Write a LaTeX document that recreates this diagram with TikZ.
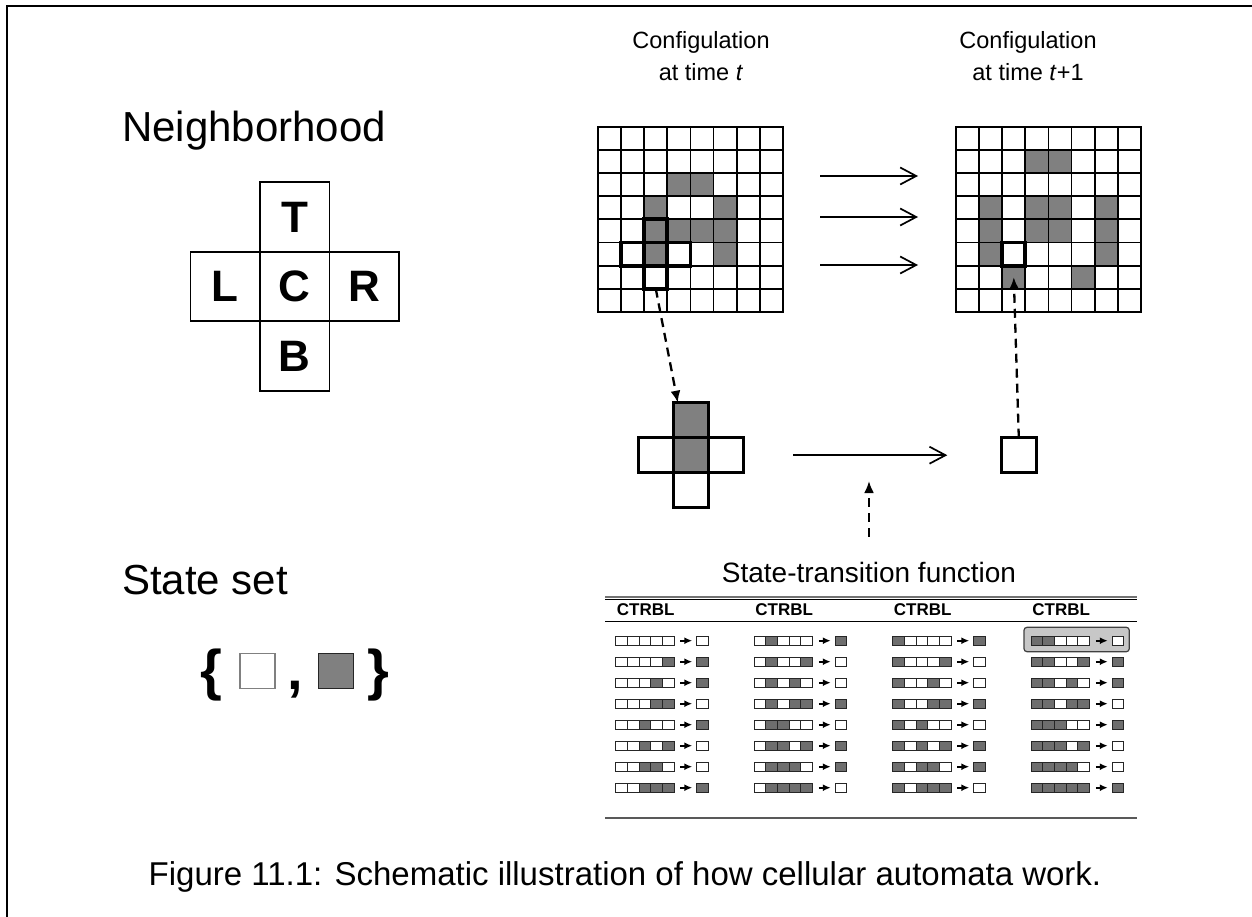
\documentclass[tikz,border=0pt]{standalone}
\usepackage{fontspec}
\setmainfont{Liberation Sans}
\usetikzlibrary{arrows.meta,positioning}
\definecolor{cellgray}{HTML}{808080}
\definecolor{tabgray}{HTML}{6E6E6E}

\begin{document}
\begin{tikzpicture}[
    x=1pt, y=-1pt,
    cell/.style={draw, line width=1.8pt, minimum size=23.1pt, inner sep=0pt, outer sep=0pt},
    marked/.style={draw, line width=3.8pt},
    nbcell/.style={draw, line width=1.8pt, minimum size=69.5pt, inner sep=0pt, outer sep=0pt, font=\fontsize{44}{44}\selectfont\bfseries},
    xcell/.style={draw, line width=2.5pt, minimum size=35pt, inner sep=0pt, outer sep=0pt},
    tcell/.style={draw=black!85, line width=0.9pt, minimum width=11.67pt, minimum height=9.3pt, inner sep=0pt, outer sep=0pt},
    arrow/.style={-{Straight Barb[length=16pt,width=17pt]}, line width=1.7pt},
    dasharrow/.style={-{Latex[length=12pt,width=10pt]}, line width=2.3pt, dash pattern=on 9pt off 6pt},
    tarrow/.style={-{Latex[length=8pt,width=7pt]}, line width=1.6pt},
    cfglabel/.style={align=center, font=\fontsize{23.5}{32}\selectfont},
    bigtext/.style={anchor=base west, inner sep=0pt, font=\fontsize{42}{42}\selectfont}
]
\useasboundingbox (0,0) rectangle (1252,917);
\draw[line width=1.5pt] (7,917) -- (7,6) -- (1252,6);

% neighborhood
\node[bigtext] (nbtitle) at (122,142) {Neighborhood};
\node[nbcell] (nC) at (294.7,286.4) {C};
\node[nbcell, above=0pt of nC] (nT) {T};
\node[nbcell, left=0pt of nC] (nL) {L};
\node[nbcell, right=0pt of nC] (nR) {R};
\node[nbcell, below=0pt of nC] (nB) {B};

% state set
\node[bigtext] (sstitle) at (122,594) {State set};
\node[anchor=base, inner sep=0pt, font=\fontsize{56}{56}\selectfont\bfseries] (lb) at (211.7,689) {\{};
\node[draw=black!50, line width=1.2pt, minimum size=35pt, inner sep=0pt] (ws) at (257.5,670.8) {};
\node[anchor=base, inner sep=0pt, font=\fontsize{56}{56}\selectfont\bfseries] (cm) at (295,689) {,};
\node[draw=black!85, fill=cellgray, line width=1.2pt, minimum size=35pt, inner sep=0pt] (gs) at (335.8,670.8) {};
\node[anchor=base, inner sep=0pt, font=\fontsize{56}{56}\selectfont\bfseries] (rb) at (378,689) {\}};

% configurations
\node[cfglabel] (cfg1) at (701,56) {Configulation\\at time \textit{t}};
\node[cfglabel] (cfg2) at (1028,56) {Configulation\\at time \textit{t}+1};
\foreach \r in {0,...,7}
  \foreach \c in {0,...,7}{
    \node[cell] (L-\r-\c) at ({598+23.1*(\c+0.5)},{127+23.1*(\r+0.5)}) {};
    \node[cell] (R-\r-\c) at ({956+23.1*(\c+0.5)},{127+23.1*(\r+0.5)}) {};
  }
\foreach \r/\c in {2/3,2/4,3/2,3/5,4/2,4/3,4/4,4/5,5/2,5/5}
  \node[cell, fill=cellgray] at (L-\r-\c) {};
\foreach \r/\c in {1/3,1/4,3/1,3/3,3/4,3/6,4/1,4/3,4/4,4/6,5/1,5/6,6/2,6/5}
  \node[cell, fill=cellgray] at (R-\r-\c) {};
\foreach \p in {4-2,5-1,5-2,5-3,6-2}
  \draw[marked] (L-\p.north west) rectangle (L-\p.south east);
\draw[marked] (R-5-2.north west) rectangle (R-5-2.south east);
\foreach \y [count=\i] in {176,217,265}{
  \coordinate (s\i) at (820,\y);
  \coordinate (e\i) at (918,\y);
  \draw[arrow] (s\i) -- (e\i);
}

% local rule
\node[xcell, fill=cellgray] (xC) at (690.8,455.2) {};
\node[xcell, fill=cellgray, above=0pt of xC] (xT) {};
\node[xcell, left=0pt of xC] (xL) {};
\node[xcell, right=0pt of xC] (xR) {};
\node[xcell, below=0pt of xC] (xB) {};
\node[xcell] (xout) at (1018.8,455.2) {};
\draw[arrow, shorten <=50pt, shorten >=54pt] (xR) -- (xout);
\draw[dasharrow] (L-6-2.south) -- ([xshift=-13pt]xT.north);
\draw[dasharrow] (xout.north) -- (R-6-2.center);

% transition table
\node[anchor=base, inner sep=0pt, font=\fontsize{28}{28}\selectfont] (stf) at (869,582) {State-transition function};
\coordinate (fa) at (869,481);
\draw[dasharrow, shorten <=25pt] (stf) -- (fa);
\draw[line width=2pt, black!55] (605,597) -- (1137,597);
\draw[line width=0.9pt] (605,599.5) -- (1137,599.5);
\draw[line width=1.3pt] (605,621.7) -- (1137,621.7);
\draw[line width=2pt, black!65] (605,818) -- (1137,818);
\draw[draw=black!75, fill=black!22, line width=1.2pt, rounded corners=3pt] (1024,627.3) rectangle (1129.3,651.7);
\foreach \c in {0,...,3}{
  \pgfmathsetmacro\xo{615.7+138.5*\c}
  \node[anchor=base west, inner sep=0pt, font=\fontsize{17}{17}\selectfont\bfseries] (h\c) at (\xo+1,615) {CTRBL};
  \foreach \r in {0,...,7}{
    \foreach \k in {0,...,4}{
      \pgfmathtruncatemacro\bit{mod(floor((8*\c+\r)/2^(4-\k)),2)}
      \ifnum\bit=1 \def\fc{tabgray}\else\def\fc{white}\fi
      \node[tcell, fill=\fc] (t\c-\r-\k) at ({\xo+11.67*(\k+0.5)},{640.7+21*\r}) {};
    }
    \pgfmathtruncatemacro\outb{mod(floor(\c/2)+\c+floor(\r/4)+floor(\r/2)+\r,2)}
    \ifnum\outb=1 \def\fc{tabgray}\else\def\fc{white}\fi
    \node[tcell, fill=\fc] (o\c-\r) at ({\xo+86.8},{640.7+21*\r}) {};
    \draw[tarrow, shorten <=6.2pt, shorten >=4.4pt] (t\c-\r-4) -- (o\c-\r);
  }
}

\node[anchor=base, inner sep=0pt, font=\fontsize{33}{33}\selectfont] (caption) at (625,885) {Figure 11.1: Schematic illustration of how cellular automata work.};
\end{tikzpicture}
\end{document}
